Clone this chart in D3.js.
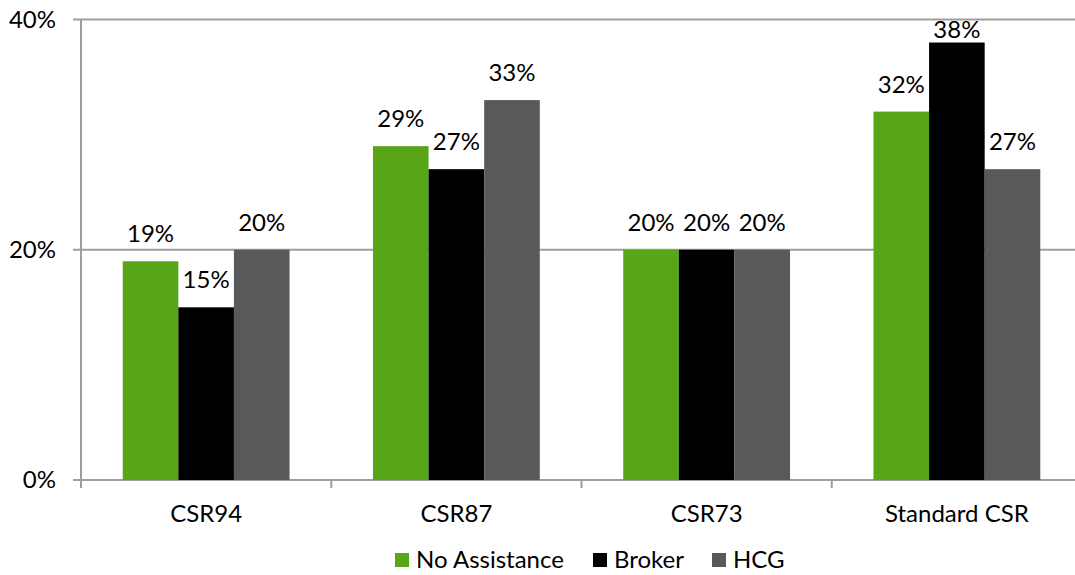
<!DOCTYPE html>
<html>
<head>
<meta charset="utf-8">
<script src="https://cdn.jsdelivr.net/npm/d3@7"></script>
<style>
  html, body { margin: 0; padding: 0; background: #fff; }
  svg { display: block; font-family: Lato, "Open Sans", sans-serif; }
</style>
</head>
<body>
<svg id="chart" width="1075" height="575"></svg>
<script>
// Plan categories and share of enrollees per assistance type (percent)
const categories = ["CSR94", "CSR87", "CSR73", "Standard CSR"];
const seriesNames = ["No Assistance", "Broker", "HCG"];
const noAssistance = [19, 29, 20, 32];
const broker = [15, 27, 20, 38];
const hcg = [20, 33, 20, 27];
const yTicks = [0, 20, 40];
const colors = ["#58A618", "#000000", "#595959"];

const seriesValues = [noAssistance, broker, hcg];
const rows = categories.map((c, i) => ({
  category: c,
  values: seriesNames.map((s, j) => ({ series: s, value: seriesValues[j][i], color: colors[j] }))
}));

const svg = d3.select("#chart");
const fontSize = 24;
const margin = { left: 81, top: 19.5, bottom: 95 };
const plotRight = 1082;
const height = 575;

const x0 = d3.scaleBand()
  .domain(categories)
  .range([margin.left, plotRight])
  .paddingInner(0)
  .paddingOuter(0);

// 150% gap between groups
const x1 = d3.scaleBand()
  .domain(seriesNames)
  .range([0, x0.bandwidth()])
  .paddingInner(0)
  .paddingOuter(0.75);

const y = d3.scaleLinear()
  .domain([0, 40])
  .range([height - margin.bottom, margin.top]);

const gridColor = "#9E9E9E";

// horizontal gridlines
svg.append("g")
  .selectAll("line")
  .data(yTicks)
  .join("line")
  .attr("x1", margin.left - 8)
  .attr("x2", plotRight)
  .attr("y1", d => y(d))
  .attr("y2", d => y(d))
  .attr("stroke", gridColor)
  .attr("stroke-width", 2);

// y axis line
svg.append("line")
  .attr("x1", margin.left).attr("x2", margin.left)
  .attr("y1", y(40)).attr("y2", y(0) + 8)
  .attr("stroke", gridColor).attr("stroke-width", 2);

// x-axis category ticks
svg.append("g")
  .selectAll("line")
  .data(categories.slice(1).concat(["__end"]))
  .join("line")
  .attr("x1", (d, i) => margin.left + x0.bandwidth() * (i + 1))
  .attr("x2", (d, i) => margin.left + x0.bandwidth() * (i + 1))
  .attr("y1", y(0))
  .attr("y2", y(0) + 8)
  .attr("stroke", gridColor).attr("stroke-width", 2);

// y tick labels
svg.append("g")
  .selectAll("text")
  .data(yTicks)
  .join("text")
  .attr("x", 56)
  .attr("y", d => y(d))
  .attr("dy", "0.35em")
  .attr("text-anchor", "end")
  .attr("font-size", fontSize)
  .attr("fill", "#000")
  .text(d => d + "%");

// bars
const groups = svg.append("g")
  .selectAll("g")
  .data(rows)
  .join("g")
  .attr("transform", d => `translate(${x0(d.category)},0)`);

groups.selectAll("rect")
  .data(d => d.values)
  .join("rect")
  .attr("x", d => x1(d.series))
  .attr("width", x1.bandwidth())
  .attr("y", d => y(d.value))
  .attr("height", d => y(0) - y(d.value))
  .attr("fill", d => d.color);

// value labels above bars, kept inside the top of the chart
groups.selectAll("text")
  .data(d => d.values)
  .join("text")
  .attr("x", d => x1(d.series) + x1.bandwidth() / 2)
  .attr("y", d => Math.max(y(d.value) - 19, 38))
  .attr("text-anchor", "middle")
  .attr("font-size", fontSize)
  .attr("fill", "#000")
  .text(d => d.value + "%");

// category labels
svg.append("g")
  .selectAll("text")
  .data(categories)
  .join("text")
  .attr("x", d => x0(d) + x0.bandwidth() / 2)
  .attr("y", 522)
  .attr("text-anchor", "middle")
  .attr("font-size", fontSize)
  .attr("fill", "#000")
  .text(d => d);

// legend
const legendItems = [
  { name: seriesNames[0], color: colors[0], x: 395 },
  { name: seriesNames[1], color: colors[1], x: 593 },
  { name: seriesNames[2], color: colors[2], x: 712 }
];
const legend = svg.append("g")
  .selectAll("g")
  .data(legendItems)
  .join("g")
  .attr("transform", d => `translate(${d.x},553)`);
legend.append("rect")
  .attr("width", 14).attr("height", 14)
  .attr("fill", d => d.color);
legend.append("text")
  .attr("x", 21)
  .attr("y", 15)
  .attr("font-size", fontSize)
  .attr("fill", "#000")
  .text(d => d.name);
</script>
</body>
</html>
